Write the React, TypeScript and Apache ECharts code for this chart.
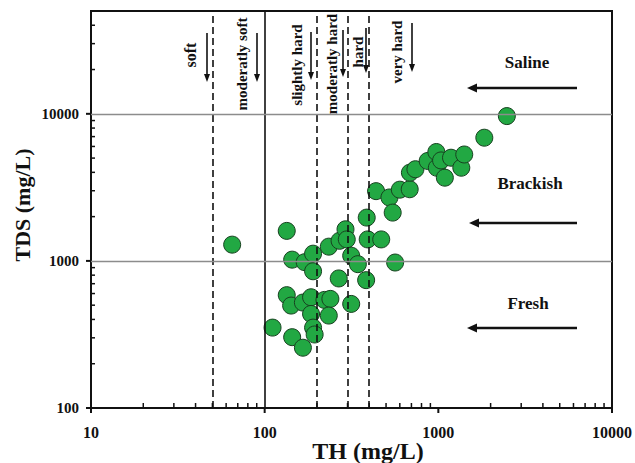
import React, { useEffect, useRef } from 'react';
import * as echarts from 'echarts';

// Total hardness (mg/L) and TDS (mg/L) of each sample
const thValues = [65, 134, 144, 170, 190, 190, 234, 270, 292, 297, 315, 344, 267, 384, 387, 392, 469, 564, 438, 523, 546, 600, 684, 686, 738, 868, 974, 980, 1037, 1090, 1183, 1356, 1410, 1840, 2480, 134, 142, 166, 185, 185, 221, 239, 234, 315, 111, 144, 166, 190, 194];
const tdsValues = [1290, 1600, 1020, 980, 1120, 850, 1250, 1370, 1640, 1400, 1085, 950, 760, 740, 1970, 1400, 1400, 975, 2980, 2700, 2130, 3050, 3070, 3980, 4200, 4780, 5500, 4300, 4820, 3680, 5030, 4300, 5290, 6880, 9650, 585, 497, 521, 566, 436, 543, 552, 425, 510, 352, 303, 257, 352, 316];

// Hardness class boundaries (TH) and salinity class boundaries (TDS)
const hardnessBounds = [50, 100, 200, 300, 400];
const hardnessSolid = [100];
const salinityBounds = [1000, 10000];

// Axis ticks
const xMajorTicks = [10, 100, 1000, 10000];
const xMinorTicks = [20, 30, 40, 50, 60, 70, 80, 90, 200, 300, 400, 500, 600, 700, 800, 900, 2000, 3000, 4000, 5000, 6000, 7000, 8000, 9000];
const yMajorTicks = [100, 1000, 10000];
const yMinorTicks = [200, 300, 400, 500, 600, 700, 800, 900, 2000, 3000, 4000, 5000, 6000, 7000, 8000, 9000, 20000, 30000, 40000];

const X_MIN = 10, X_MAX = 10000, Y_MIN = 100, Y_MAX = 50000;

const SERIF = "'Times New Roman', 'Liberation Serif', 'DejaVu Serif', serif";

function vText(text: string, x: number, y: number, size = 15) {
  return {
    type: 'text', x, y, rotation: Math.PI / 2,
    style: { text, fontFamily: SERIF, fontWeight: 'bold', fontSize: size, fill: '#111', align: 'center', verticalAlign: 'middle' },
  };
}
function downArrow(x: number, y1: number, y2: number) {
  return [
    { type: 'line', shape: { x1: x, y1, x2: x, y2: y2 - 6 }, style: { stroke: '#111', lineWidth: 1.6 } },
    { type: 'polygon', shape: { points: [[x - 3, y2 - 8], [x + 3, y2 - 8], [x, y2]] }, style: { fill: '#111' } },
  ];
}
function leftArrow(x1: number, x2: number, y: number) {
  return [
    { type: 'line', shape: { x1, y1: y, x2: x2 + 9, y2: y }, style: { stroke: '#111', lineWidth: 2.6 } },
    { type: 'polygon', shape: { points: [[x2 + 10, y - 4.5], [x2 + 10, y + 4.5], [x2, y]] }, style: { fill: '#111' } },
  ];
}
function hText(text: string, x: number, y: number) {
  return {
    type: 'text', x, y,
    style: { text, fontFamily: SERIF, fontWeight: 'bold', fontSize: 17, fill: '#111', align: 'center', verticalAlign: 'middle' },
  };
}

export default function App() {
  const ref = useRef<HTMLDivElement>(null);
  useEffect(() => {
    if (!ref.current) return;
    const chart = echarts.init(ref.current, null, { renderer: 'svg' });

    const points = thValues.map((v, i) => [v, tdsValues[i]]);
    const isPow10 = (v: number) => Math.abs(Math.log10(v) - Math.round(Math.log10(v))) < 1e-6;

    chart.setOption({
      animation: false,
      grid: { left: 91, right: 22, top: 11, bottom: 55, show: true, borderColor: '#111', borderWidth: 2, backgroundColor: 'transparent' },
      xAxis: {
        type: 'log', logBase: 10, min: X_MIN, max: X_MAX,
        axisLine: { lineStyle: { color: '#111', width: 2 } },
        axisTick: { show: false },
        splitLine: { show: false },
        axisLabel: {
          margin: 16, color: '#111', fontFamily: SERIF, fontWeight: 'bold', fontSize: 16,
          showMinLabel: true, showMaxLabel: true,
          formatter: (v: number) => (isPow10(v) ? String(Math.round(v)) : ''),
        },
      },
      yAxis: {
        type: 'log', logBase: 10, min: Y_MIN, max: Y_MAX,
        axisLine: { lineStyle: { color: '#111', width: 2 } },
        axisTick: { show: false },
        splitLine: { show: false },
        axisLabel: {
          margin: 12, color: '#111', fontFamily: SERIF, fontWeight: 'bold', fontSize: 15,
          formatter: (v: number) => (isPow10(v) ? String(Math.round(v)) : ''),
        },
      },
      series: [
        {
          type: 'scatter',
          data: points,
          symbol: 'circle',
          symbolSize: 17,
          itemStyle: { color: '#22a843', borderColor: '#17401f', borderWidth: 1, opacity: 1 },
          z: 2,
          markLine: {
            silent: true,
            symbol: 'none',
            label: { show: false },
            z: 5,
            data: [
              ...hardnessBounds.map((v) => ({
                xAxis: v,
                lineStyle: { color: '#111', width: 1.6, type: hardnessSolid.includes(v) ? 'solid' : [7, 4] },
              })),
              ...salinityBounds.map((v) => ({
                yAxis: v,
                lineStyle: { color: '#8c8c8c', width: 1.4, type: 'solid' },
              })),
            ],
          },
        },
      ],
    });

    // Axis ticks placed through the chart's own log scales
    const toPx = (x: number, y: number) => chart.convertToPixel({ gridIndex: 0 }, [x, y]) as number[];
    const tickLine = (x1: number, y1: number, x2: number, y2: number, w: number) => ({
      type: 'line', silent: true,
      shape: { x1, y1, x2, y2 }, style: { stroke: '#111', lineWidth: w },
    });
    const ticks: any[] = [];
    xMajorTicks.forEach((v) => { const p = toPx(v, Y_MIN); ticks.push(tickLine(p[0], p[1], p[0], p[1] + 5, 2)); });
    xMinorTicks.forEach((v) => { const p = toPx(v, Y_MIN); ticks.push(tickLine(p[0], p[1], p[0], p[1] - 5, 1.5)); });
    yMajorTicks.forEach((v) => { const p = toPx(X_MIN, v); ticks.push(tickLine(p[0], p[1], p[0] - 5, p[1], 2)); });
    yMinorTicks.forEach((v) => { const p = toPx(X_MIN, v); ticks.push(tickLine(p[0], p[1], p[0] + 4, p[1], 1.5)); });

    chart.setOption({
      graphic: [
        vText('soft', 190, 55, 16),
        ...downArrow(207, 33, 82),
        vText('moderatly soft', 242, 64),
        ...downArrow(257, 33, 82),
        vText('slightly hard', 297, 65),
        ...downArrow(311, 32, 80),
        vText('moderatly hard', 332, 64),
        ...downArrow(343, 30, 77),
        vText('hard', 358, 52),
        ...downArrow(366, 28, 73),
        vText('very hard', 397, 52),
        ...downArrow(412, 23, 72),
        hText('Saline', 527, 62),
        ...leftArrow(577, 467, 88),
        hText('Brackish', 530, 183),
        ...leftArrow(577, 469, 223),
        hText('Fresh', 528, 303),
        ...leftArrow(577, 467, 328),
        {
          type: 'text', x: 22, y: 205, rotation: Math.PI / 2,
          style: { text: 'TDS (mg/L)', fontFamily: SERIF, fontWeight: 'bold', fontSize: 22, fill: '#111', align: 'center', verticalAlign: 'middle' },
        },
        {
          type: 'text', x: 368, y: 451,
          style: { text: 'TH (mg/L)', fontFamily: SERIF, fontWeight: 'bold', fontSize: 24, fill: '#111', align: 'center', verticalAlign: 'middle' },
        },
        ...ticks,
      ],
    });
    return () => chart.dispose();
  }, []);
  return <div ref={ref} style={{ position: 'absolute', left: 0, top: 0, width: 635, height: 463, background: '#fff' }} />;
}
